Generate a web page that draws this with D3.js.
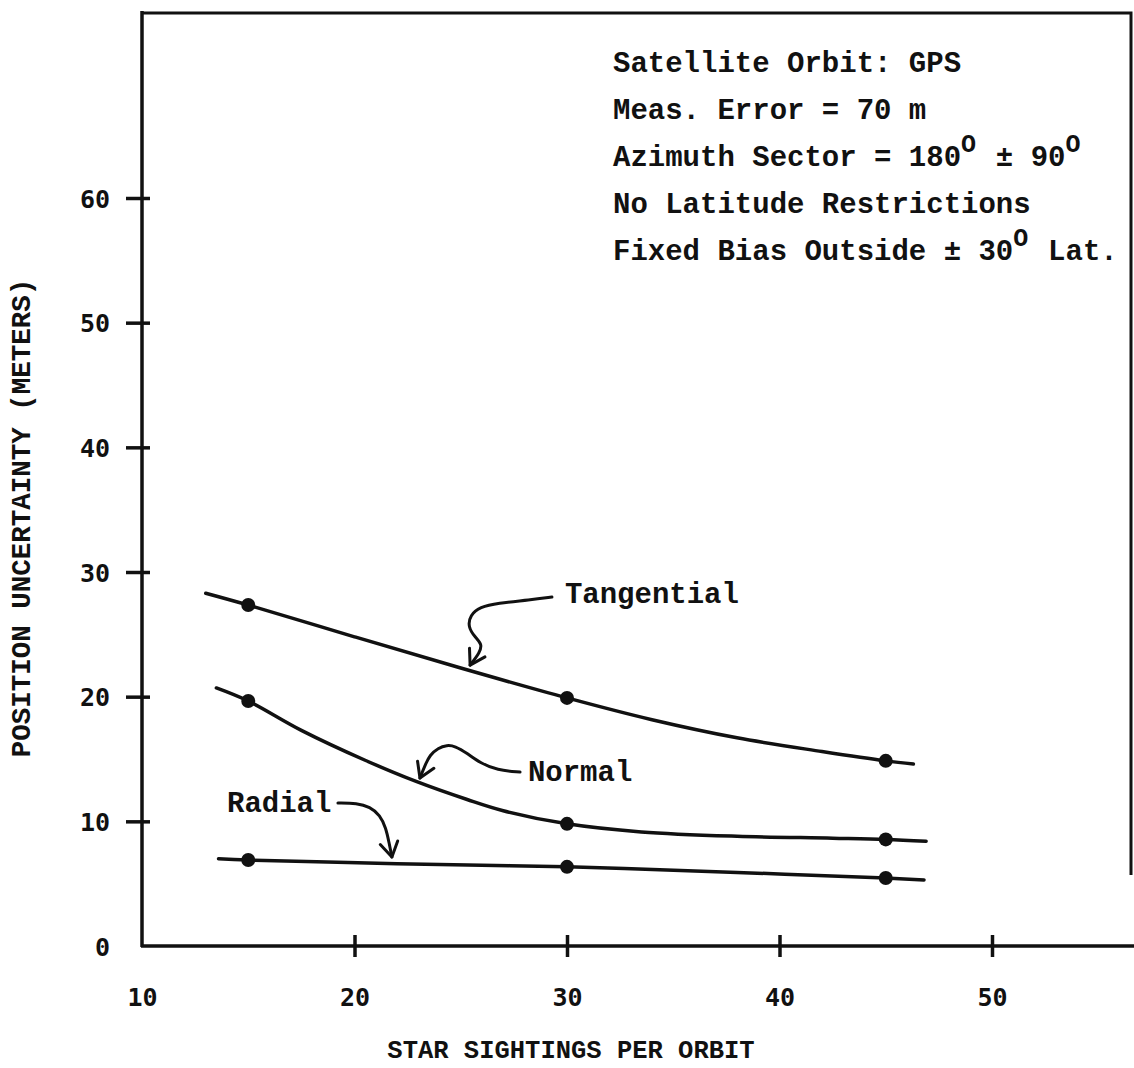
<!DOCTYPE html>
<html>
<head>
<meta charset="utf-8">
<script src="https://cdnjs.cloudflare.com/ajax/libs/d3/7.8.5/d3.min.js"></script>
<style>
  body { margin: 0; background: #fff; }
  svg { display: block; }
  .mono { font-family: "Liberation Mono", "DejaVu Sans Mono", monospace; font-weight: bold; fill: #111; }
  .tick text { font-family: "DejaVu Sans Mono", monospace; font-weight: bold; font-size: 25px; fill: #111; }
</style>
</head>
<body>
<script>
const svgWidth = 1134; //Width of SVG.
const svgHeight = 1068; //Height of SVG.

//Tick labels on both axes.
const xTicks = [10, 20, 30, 40, 50];
const yTicks = [0, 10, 20, 30, 40, 50, 60];

//Plotted points (star sightings per orbit vs. uncertainty in metres).
const sightings = [15, 30, 45];
const tangentialDots = [27.35, 19.9, 14.85];
const normalDots = [19.65, 9.8, 8.55];
const radialDots = [6.9, 6.35, 5.45];

//Hand-drawn curves through the points.
const tangentialTraceX = [13.0, 15, 20, 25, 30, 34, 38, 42, 45, 46.3];
const tangentialTraceY = [28.3, 27.35, 24.8, 22.3, 19.9, 18.15, 16.7, 15.6, 14.85, 14.6];
const normalTraceX = [13.5, 15, 17.5, 20.5, 22.9, 25.3, 27, 30, 33.5, 38, 42.5, 45, 46.9];
const normalTraceY = [20.7, 19.65, 17.3, 14.9, 13.2, 11.75, 10.85, 9.8, 9.15, 8.8, 8.65, 8.55, 8.4];
const radialTraceX = [13.6, 15, 22, 30, 38, 45, 46.8];
const radialTraceY = [7.0, 6.9, 6.6, 6.35, 5.9, 5.45, 5.3];

//Curly leader arrows from the labels to the curves (data units).
const tangentialLeaderX = [29.29, 28.26, 26.71, 25.91, 25.44, 25.34, 25.67, 26.0, 25.91, 25.44];
const tangentialLeaderY = [27.99, 27.75, 27.51, 27.19, 26.54, 25.58, 24.78, 24.22, 23.58, 22.53];
const normalLeaderX = [27.79, 26.71, 25.91, 25.29, 24.73, 24.35, 23.93, 23.55, 23.32, 23.08];
const normalLeaderY = [13.95, 14.11, 14.68, 15.48, 16.04, 16.12, 15.88, 15.32, 14.51, 13.47];
const radialLeaderX = [19.22, 20.12, 20.73, 21.2, 21.48, 21.62, 21.76];
const radialLeaderY = [11.47, 11.47, 11.15, 10.51, 9.46, 8.34, 7.14];

const curveLabels = ["Tangential", "Normal", "Radial"];
const labelX = [29.9, 28.16, 14.0];
const labelY = [27.51, 13.23, 10.75];

const xScale = d3.scaleLinear().domain([10, 50]).range([142, 992]);
const yScale = d3.scaleLinear().domain([0, 60]).range([946, 198]);

const svg = d3.select("body")
              .append("svg")
              .attr("width", svgWidth)
              .attr("height", svgHeight);

svg.append("rect").attr("width", svgWidth).attr("height", svgHeight).attr("fill", "#fff");

//Frame: top and right border.
svg.append("path")
   .attr("d", "M142,13 L1131,13 L1131,875")
   .attr("fill", "none")
   .attr("stroke", "#111")
   .attr("stroke-width", 3);

//Y axis, ticks cross the axis line.
const yAxis = svg.append("g")
                 .attr("transform", "translate(142,0)")
                 .call(d3.axisLeft(yScale).tickValues(yTicks).tickSize(16).tickPadding(16).tickSizeOuter(0));
yAxis.select(".domain").remove();
yAxis.selectAll(".tick line")
     .attr("x2", -16).attr("x1", 8)
     .attr("stroke", "#111").attr("stroke-width", 3.5)
     .filter((d) => d === 0).remove();
yAxis.selectAll(".tick text").attr("dy", "0.36em");

//X axis.
const xAxis = svg.append("g")
                 .attr("transform", "translate(0,946)")
                 .call(d3.axisBottom(xScale).tickValues(xTicks).tickSize(11).tickPadding(31).tickSizeOuter(0));
xAxis.select(".domain").remove();
xAxis.selectAll(".tick line")
     .attr("y1", -11)
     .attr("stroke", "#111").attr("stroke-width", 3.5)
     .filter((d) => d === 10).remove();

//Axis lines.
svg.append("line").attr("x1", 142).attr("x2", 142).attr("y1", 11).attr("y2", 947)
   .attr("stroke", "#111").attr("stroke-width", 3.5);
svg.append("line").attr("x1", 141).attr("x2", svgWidth).attr("y1", 946).attr("y2", 946)
   .attr("stroke", "#111").attr("stroke-width", 3.5);

//Axis titles.
svg.append("text")
   .attr("class", "mono")
   .attr("x", 571).attr("y", 1058)
   .attr("text-anchor", "middle")
   .style("font-size", "25.5px")
   .text("STAR SIGHTINGS PER ORBIT");

svg.append("text")
   .attr("class", "mono")
   .attr("transform", "translate(30,518) rotate(-90)")
   .attr("text-anchor", "middle")
   .style("font-size", "27.5px")
   .text("POSITION UNCERTAINTY (METERS)");

//Curves.
const line = d3.line()
               .x((d) => xScale(d[0]))
               .y((d) => yScale(d[1]))
               .curve(d3.curveCatmullRom.alpha(0.5));

const traces = [[tangentialTraceX, tangentialTraceY],
                [normalTraceX, normalTraceY],
                [radialTraceX, radialTraceY]];

svg.selectAll(".curve")
   .data(traces)
   .enter()
   .append("path")
   .attr("class", "curve")
   .attr("d", (t) => line(t[0].map((x, i) => [x, t[1][i]])))
   .attr("fill", "none")
   .attr("stroke", "#111")
   .attr("stroke-width", 3.5)
   .attr("stroke-linecap", "round");

//Dots.
[tangentialDots, normalDots, radialDots].forEach(function(vals) {
  svg.append("g")
     .selectAll("circle")
     .data(vals)
     .enter()
     .append("circle")
     .attr("cx", (d, i) => xScale(sightings[i]))
     .attr("cy", (d) => yScale(d))
     .attr("r", 7)
     .attr("fill", "#111");
});

//Leaders with open arrowheads at the curve end.
const leaders = [[tangentialLeaderX, tangentialLeaderY],
                 [normalLeaderX, normalLeaderY],
                 [radialLeaderX, radialLeaderY]];

const leaderLine = d3.line()
                     .x((d) => d[0])
                     .y((d) => d[1])
                     .curve(d3.curveBasis);

leaders.forEach(function(l) {
  let pts = l[0].map((x, i) => [xScale(x), yScale(l[1][i])]);
  svg.append("path")
     .attr("d", leaderLine(pts))
     .attr("fill", "none")
     .attr("stroke", "#111")
     .attr("stroke-width", 3)
     .attr("stroke-linecap", "round");
  //Arrowhead from the direction of the last segment.
  let tip = pts[pts.length - 1];
  let prev = pts[pts.length - 3];
  let ang = Math.atan2(tip[1] - prev[1], tip[0] - prev[0]);
  let head = 17;
  let spread = 0.55;
  let b1 = [tip[0] - head * Math.cos(ang - spread), tip[1] - head * Math.sin(ang - spread)];
  let b2 = [tip[0] - head * Math.cos(ang + spread), tip[1] - head * Math.sin(ang + spread)];
  svg.append("path")
     .attr("d", "M" + b1 + "L" + tip + "L" + b2)
     .attr("fill", "none")
     .attr("stroke", "#111")
     .attr("stroke-width", 3)
     .attr("stroke-linecap", "round")
     .attr("stroke-linejoin", "round");
});

//Curve labels.
svg.selectAll(".curveLabel")
   .data(curveLabels)
   .enter()
   .append("text")
   .attr("class", "mono curveLabel")
   .attr("x", (d, i) => xScale(labelX[i]))
   .attr("y", (d, i) => yScale(labelY[i]))
   .style("font-size", "29px")
   .text((d) => d);

//Info block, top right.
const info = svg.append("text")
                .attr("class", "mono")
                .attr("x", 613)
                .attr("y", 72)
                .style("font-size", "29px");

const infoLines = [
  [["Satellite Orbit: GPS"]],
  [["Meas. Error = 70 m"]],
  [["Azimuth Sector = 180"], ["O", "sup"], [" \u00b1 90"], ["O", "sup"]],
  [["No Latitude Restrictions"]],
  [["Fixed Bias Outside \u00b1 30"], ["O", "sup"], [" Lat."]]
];

infoLines.forEach(function(parts, row) {
  let raised = false;
  parts.forEach(function(p, j) {
    let t = info.append("tspan").text(p[0]);
    if (j === 0) t.attr("x", 613).attr("y", 72 + row * 47);
    if (p[1] === "sup") {
      t.style("font-size", "25px").attr("dy", -14);
      raised = true;
    } else if (raised) {
      t.attr("dy", 14).attr("dx", 2.4);
      raised = false;
    }
  });
});
</script>
</body>
</html>
